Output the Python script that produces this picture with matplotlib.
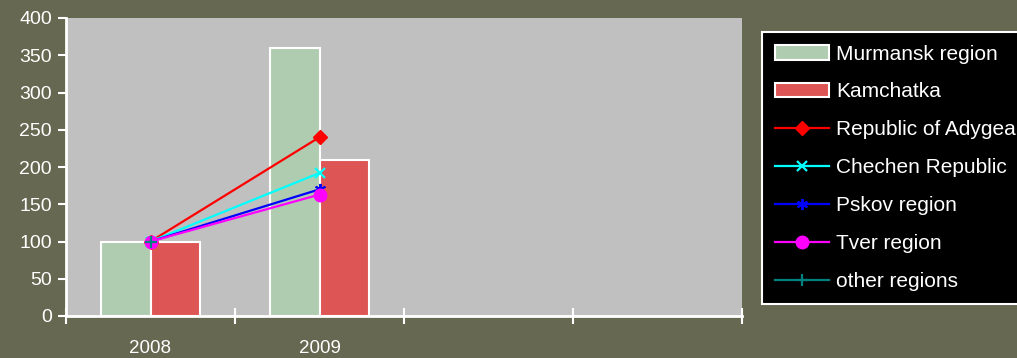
import matplotlib
matplotlib.use("Agg")
import matplotlib.pyplot as plt
import numpy as np

categories = ["2008", "2009", "", ""]
murmansk = [100, 360]
kamchatka = [100, 210]
adygea = [100, 240]
chechen = [100, 192]
pskov = [100, 170]
tver = [100, 163]
other = [100]

plt.rcParams['font.family'] = ['Liberation Sans', 'DejaVu Sans']
BG = '#676851'
fig = plt.figure(figsize=(10.17, 3.58), dpi=100, facecolor=BG)
ax = fig.add_axes([66/1017, 1-316/358, (742-66)/1017, (316-18)/358])
ax.set_facecolor('#C0C0C0')

x = np.arange(len(categories))
w = 0.29
xb = x[:len(murmansk)]
b1 = ax.bar(xb - w/2, murmansk, w, color='#B0CCB0', edgecolor='white', linewidth=1.5, label='Murmansk region', zorder=2)
b2 = ax.bar(xb + w/2, kamchatka, w, color='#DD5555', edgecolor='white', linewidth=1.5, label='Kamchatka', zorder=2)

lw = 1.6
ax.plot(x[:2], adygea, color='#FF0000', marker='D', markersize=7, lw=lw, label='Republic of Adygea', zorder=3)
ax.plot(x[:2], chechen, color='#00FFFF', marker='x', markersize=7, mew=1.6, lw=lw, label='Chechen Republic', zorder=3)
ax.plot(x[:2], pskov, color='#0000FF', marker=(6, 2, 0), markersize=8, mew=1.4, lw=lw, label='Pskov region', zorder=3)
ax.plot(x[:2], tver, color='#FF00FF', marker='o', markersize=9, lw=lw, label='Tver region', zorder=3)
ax.plot(x[:1], other, color='#008080', marker='+', markersize=9, mew=1.6, lw=lw, label='other regions', zorder=4)

ax.set_xlim(-0.5, 3.5)
ax.set_ylim(0, 400)
ax.set_yticks(np.arange(0, 401, 50))
ax.set_xticks(np.arange(-0.5, 3.6, 1))
ax.set_xticklabels([])
ax.set_xticks(x, minor=True)
ax.set_xticklabels(categories, minor=True)

for s in ['top', 'right']:
    ax.spines[s].set_visible(False)
for s in ['left', 'bottom']:
    ax.spines[s].set_color('white')
    ax.spines[s].set_linewidth(2)

ax.tick_params(axis='y', colors='white', labelsize=14, length=6, width=1.5, direction='out', pad=4)
ax.tick_params(axis='x', which='major', colors='white', length=12, width=1.5, direction='inout')
ax.tick_params(axis='x', which='minor', colors='white', labelsize=13.5, length=0, pad=17)

h, l = ax.get_legend_handles_labels()
order = [5, 6, 0, 1, 2, 3, 4]
leg = fig.legend([h[i] for i in order], [l[i] for i in order],
                 loc='upper left', bbox_to_anchor=(762/1017, 1-32/358), bbox_transform=fig.transFigure,
                 facecolor='black', edgecolor='white', framealpha=1, fancybox=False,
                 fontsize=15, labelcolor='white', handlelength=2.6, handletextpad=0.35,
                 labelspacing=0.91, borderpad=0.6, borderaxespad=0)
leg.get_frame().set_linewidth(1.5)

fig.savefig('out.png', dpi=100, facecolor=BG)
